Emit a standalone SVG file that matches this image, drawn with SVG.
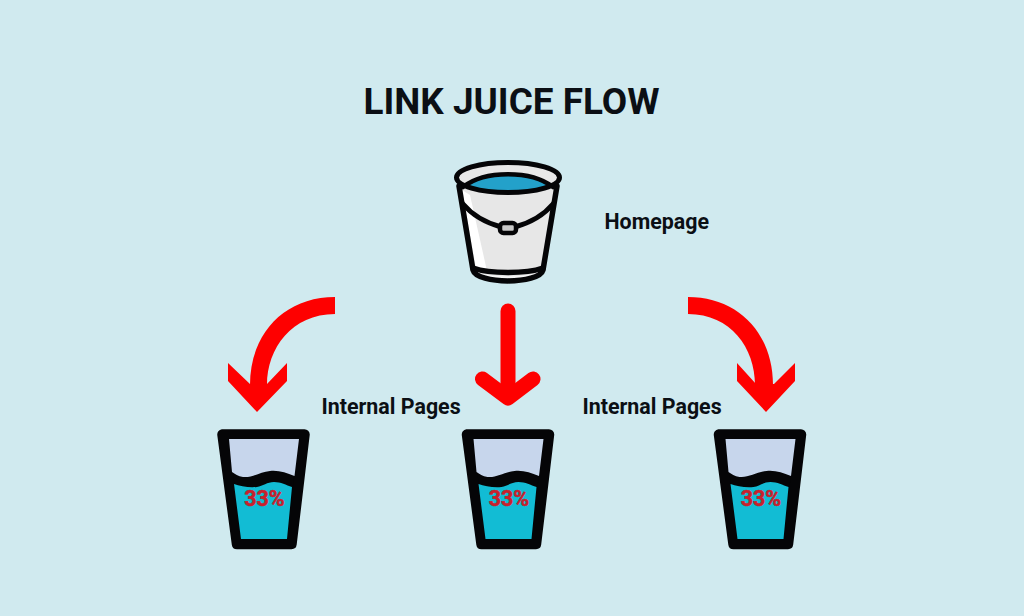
<svg xmlns="http://www.w3.org/2000/svg" width="1024" height="616" viewBox="0 0 1024 616">
<style>
.t{font-family:Roboto,"Liberation Sans",sans-serif;font-weight:700;fill:#0b0f14}
.p{font-family:Roboto,"Liberation Sans",sans-serif;font-weight:700;font-size:21.500px;fill:#c8202c;stroke:#c8202c;stroke-width:.5px;text-anchor:middle}
.l{font-size:21.400px}
.red{fill:#fe0000}
.k{stroke:#050507;stroke-linejoin:round;stroke-linecap:round}
</style>
<defs>
<g id="glass">
<path d="M222.500 434.500H304.500L291.500 544H237Z" fill="#050507" stroke="#050507" stroke-width="10.500" stroke-linejoin="round"/>
<path d="M229 439H299L294.500 476C286 473 279 470 270 471C260 472 252 478 243 477C238 476.500 235 474 232 472Z" fill="#c7d6ec"/>
<path d="M234 484C240 486 249 488 257 487C263 486 267 482 274 482C281 482 286 485 292 487L287 539H241Z" fill="#12bcd4"/>
</g>
</defs>
<rect width="1024" height="616" fill="#d0eaef"/>
<text class="t" x="511.500" y="114" font-size="36.900" text-anchor="middle">LINK JUICE FLOW</text>
<g id="homepage-bucket">
<path d="M458 182L472.500 270C478 284 538 284 543.500 270L558 182Z" fill="#e7e7e7"/>
<path d="M462 190L476 268C480 270 484 271 487 271L470 195Z" fill="#fff"/>
<path d="M474 271C490 278 526 278 542 271C541 275 538 277 534 278C518 281 498 281 482 278C478 277 475 275 474 271Z" fill="#f6f6f6"/>
<ellipse cx="508" cy="177.500" rx="51" ry="14.500" fill="#e8e8e8"/>
<path d="M463 187C485 170 531 170 553 187C531 196 485 196 463 187Z" fill="#23a1ca"/>
<path d="M463 187C485 170 531 170 553 187" fill="none" class="k" stroke-width="4.500"/>
<ellipse cx="508" cy="177.500" rx="51.500" ry="15" fill="none" class="k" stroke-width="5"/>
<path d="M459 186L473 270C477 284.500 539 284.500 543 270L557 186" fill="none" class="k" stroke-width="5.500"/>
<path d="M473 268C490 274 526 274 543 268" fill="none" class="k" stroke-width="5.500"/>
<path d="M463 204C473 216 487 223 501 227M515 227C529 223 543 216 553 204" fill="none" class="k" stroke-width="5"/>
<rect x="500" y="223" width="16" height="10" rx="3.500" fill="#c9c9c9" class="k" stroke-width="4.500"/>
</g>
<text class="t l" id="homepage-label" x="604.500" y="229">Homepage</text>
<g id="connectors">
<path class="red" d="M335 297C285 297 250 333 250 385H267C267 348 292 314 335 314Z"/>
<path class="red" d="M228 363L250 384H267L287 363V381L257 412L228 381Z"/>
<path d="M508 311V396" fill="none" stroke="#fe0000" stroke-width="15" stroke-linecap="round"/>
<path d="M482.500 379L508 398L533 379" fill="none" stroke="#fe0000" stroke-width="15" stroke-linecap="round" stroke-linejoin="round"/>
<path class="red" d="M688 297C738 297 773 333 773 385H755C755 348 731 314 688 314Z"/>
<path class="red" d="M737 363L756 384H774L795 363V381L766 412L737 381Z"/>
</g>
<text class="t l" id="label-left" x="321.500" y="413.500">Internal Pages</text>
<text class="t l" id="label-right" x="582.500" y="413.500">Internal Pages</text>
<g id="glass-1"><use href="#glass"/><text class="p" x="264.500" y="506">33%</text></g>
<g id="glass-2"><use href="#glass" x="244.500"/><text class="p" x="509" y="506">33%</text></g>
<g id="glass-3"><use href="#glass" x="496.500"/><text class="p" x="761" y="506">33%</text></g>
</svg>
